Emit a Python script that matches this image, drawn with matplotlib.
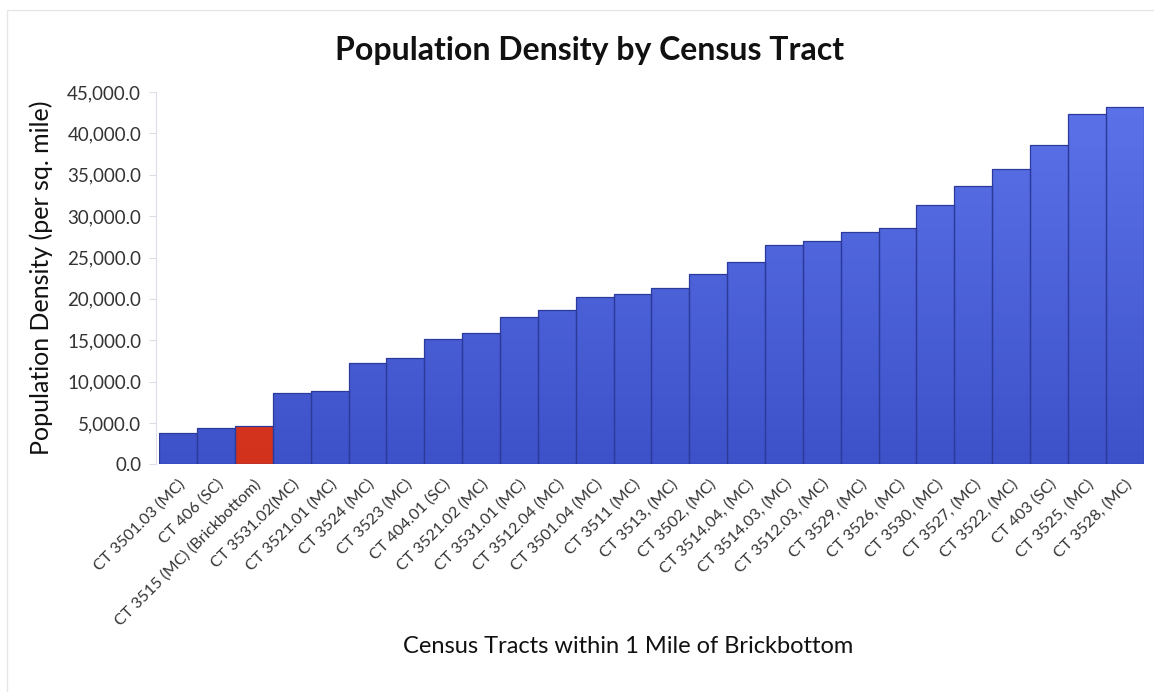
import numpy as np
import matplotlib.pyplot as plt
from matplotlib.colors import LinearSegmentedColormap
from matplotlib.ticker import FuncFormatter
from matplotlib.patches import Rectangle

# Census tracts within one mile of Brickbottom, sorted by density
tracts = [
    "CT 3501.03 (MC)", "CT 406 (SC)", "CT 3515 (MC) (Brickbottom)",
    "CT 3531.02(MC)", "CT 3521.01 (MC)", "CT 3524 (MC)", "CT 3523 (MC)",
    "CT 404.01 (SC)", "CT 3521.02 (MC)", "CT 3531.01 (MC)",
    "CT 3512.04 (MC)", "CT 3501.04 (MC)", "CT 3511 (MC)", "CT 3513, (MC)",
    "CT 3502, (MC)", "CT 3514.04, (MC)", "CT 3514.03, (MC)",
    "CT 3512.03, (MC)", "CT 3529, (MC)", "CT 3526, (MC)", "CT 3530, (MC)",
    "CT 3527, (MC)", "CT 3522, (MC)", "CT 403 (SC)", "CT 3525, (MC)",
    "CT 3528, (MC)",
]
density = [
    3750, 4450, 4650, 8600, 8850, 12200, 12900, 15100, 15850, 17800,
    18600, 20200, 20600, 21300, 23000, 24400, 26500, 26950, 28050,
    28550, 31300, 33600, 35650, 38550, 42400, 43250,
]
highlight = "CT 3515 (MC) (Brickbottom)"

plt.rcParams['font.family'] = ['Lato', 'DejaVu Sans']

fig = plt.figure(figsize=(11.54, 6.92), dpi=100)
ax = fig.add_axes([0.138, 0.329, 0.853, 0.538])

x = np.arange(len(tracts))
bars = ax.bar(x, density, width=1.0, color='none', edgecolor='#2c3a9c',
              linewidth=0.9, zorder=3)

# vertical gradient fill, lighter toward the top of the chart
blue_cmap = LinearSegmentedColormap.from_list('blues', ['#3d52c8', '#5d73ea'])
red_cmap = LinearSegmentedColormap.from_list('reds', ['#d2321c', '#e8452a'])
grad = np.linspace(0, 1, 256).reshape(-1, 1)
for name, b in zip(tracts, bars):
    cmap = red_cmap if name == highlight else blue_cmap
    x0 = b.get_x()
    im = ax.imshow(grad, cmap=cmap, origin='lower', aspect='auto',
                   extent=[x0, x0 + b.get_width(), 0, 45000], zorder=2)
    clip = Rectangle((x0, 0), b.get_width(), b.get_height(),
                     transform=ax.transData)
    im.set_clip_path(clip)

ax.set_xlim(-0.5, len(tracts) - 0.5)
ax.set_ylim(0, 45000)
ax.set_yticks(np.arange(0, 45001, 5000))
ax.yaxis.set_major_formatter(FuncFormatter(lambda v, p: f"{v:,.1f}"))

ax.set_xticks(x)
ax.set_xticklabels(tracts, rotation=45, ha='right', rotation_mode='anchor',
                   fontsize=11.5, color='#333333')
ax.tick_params(axis='x', length=0, pad=9)
ax.tick_params(axis='y', labelsize=13.5, colors='#333333', length=5,
               color='#dcdcea', pad=6)

for side in ['top', 'right', 'bottom']:
    ax.spines[side].set_visible(False)
ax.spines['left'].set_color('#dcdcea')
ax.spines['left'].set_position(('outward', 2))

ax.set_ylabel("Population Density (per sq. mile)", fontsize=18,
              color='#111111', labelpad=10)
ax.set_xlabel("Census Tracts within 1 Mile of Brickbottom", fontsize=17,
              color='#111111')
ax.xaxis.set_label_coords(0.476, -0.46)
fig.suptitle("Population Density by Census Tract", fontsize=23,
             fontweight='bold', color='#111111', x=0.511, y=0.948)

# faint frame around the chart area
fig.patches.append(Rectangle((0.006, -0.01), 1.1, 0.995, fill=False,
                             edgecolor='#e6e6e6', linewidth=1.0,
                             transform=fig.transFigure))

fig.savefig("out.png", dpi=100)
